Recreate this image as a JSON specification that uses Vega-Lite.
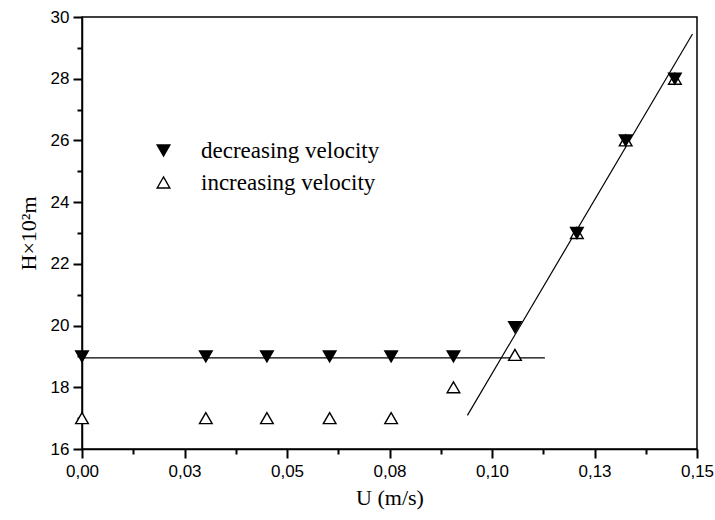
{
  "$schema": "https://vega.github.io/schema/vega-lite/v6.json",
  "width": 615,
  "height": 432,
  "autosize": {"type": "none"},
  "padding": {"left": 82, "top": 17, "right": 18, "bottom": 71},
  "background": "white",
  "config": {
    "view": {"stroke": "black", "strokeWidth": 1.5},
    "axis": {
      "grid": false,
      "domainColor": "black",
      "domainWidth": 1.5,
      "labelColor": "black",
      "titleColor": "black",
      "labelFont": "Liberation Sans",
      "labelFontSize": 17,
      "labelFlush": false,
      "titleFont": "Liberation Serif",
      "titleFontSize": 22,
      "titleFontWeight": "normal"
    }
  },
  "layer": [
    {
      "data": {
        "values": [
          {"seg": "flat", "u": 0, "h": 18.95},
          {"seg": "flat", "u": 0.1129, "h": 18.95},
          {"seg": "fit", "u": 0.094, "h": 17.09},
          {"seg": "fit", "u": 0.1489, "h": 29.45}
        ]
      },
      "mark": {"type": "line", "color": "black", "strokeWidth": 1.2},
      "encoding": {
        "x": {
          "field": "u",
          "type": "quantitative",
          "scale": {"domain": [0, 0.15], "nice": false, "zero": false},
          "axis": {
            "orient": "bottom",
            "values": [0.0125, 0.0375, 0.0625, 0.0875, 0.1125, 0.1375],
            "labels": false,
            "domain": false,
            "ticks": true,
            "tickColor": "#000000",
            "tickWidth": 2,
            "tickSize": 5,
            "title": null
          }
        },
        "y": {
          "field": "h",
          "type": "quantitative",
          "scale": {"domain": [16, 30], "nice": false, "zero": false},
          "axis": {
            "orient": "left",
            "values": [17, 19, 21, 23, 25, 27, 29],
            "labels": false,
            "domain": false,
            "ticks": true,
            "tickColor": "#000000",
            "tickWidth": 2,
            "tickSize": 5,
            "title": null
          }
        },
        "detail": {"field": "seg"}
      }
    },
    {
      "data": {
        "values": [
          {"series": "increasing velocity", "u": 0, "h": 17},
          {"series": "increasing velocity", "u": 0.0302, "h": 17},
          {"series": "increasing velocity", "u": 0.0451, "h": 17},
          {"series": "increasing velocity", "u": 0.0604, "h": 17},
          {"series": "increasing velocity", "u": 0.0754, "h": 17},
          {"series": "increasing velocity", "u": 0.0906, "h": 18},
          {"series": "increasing velocity", "u": 0.1056, "h": 19.05},
          {"series": "increasing velocity", "u": 0.1207, "h": 23},
          {"series": "increasing velocity", "u": 0.1326, "h": 26},
          {"series": "increasing velocity", "u": 0.1446, "h": 28},
          {"series": "decreasing velocity", "u": 0, "h": 19},
          {"series": "decreasing velocity", "u": 0.0302, "h": 19},
          {"series": "decreasing velocity", "u": 0.0451, "h": 19},
          {"series": "decreasing velocity", "u": 0.0604, "h": 19},
          {"series": "decreasing velocity", "u": 0.0754, "h": 19},
          {"series": "decreasing velocity", "u": 0.0906, "h": 19},
          {"series": "decreasing velocity", "u": 0.1056, "h": 19.95},
          {"series": "decreasing velocity", "u": 0.1207, "h": 23},
          {"series": "decreasing velocity", "u": 0.1326, "h": 26},
          {"series": "decreasing velocity", "u": 0.1446, "h": 28}
        ]
      },
      "mark": {"type": "point", "filled": true, "strokeWidth": 1.4, "size": 160, "opacity": 1},
      "encoding": {
        "x": {
          "field": "u",
          "type": "quantitative",
          "axis": {
            "orient": "bottom",
            "values": [0, 0.025, 0.05, 0.075, 0.1, 0.125, 0.15],
            "labelExpr": "replace(format(datum.value + 0.0001, '.2f'), '.', ',')",
            "ticks": true,
            "tickColor": "#000000",
            "tickWidth": 2,
            "tickSize": 9,
            "labelPadding": 5,
            "title": "U  (m/s)",
            "titlePadding": 8
          }
        },
        "y": {
          "field": "h",
          "type": "quantitative",
          "axis": {
            "orient": "left",
            "values": [16, 18, 20, 22, 24, 26, 28, 30],
            "ticks": true,
            "tickColor": "#000000",
            "tickWidth": 2,
            "tickSize": 9,
            "labelPadding": 4,
            "title": "H×10²m",
            "titlePadding": 10
          }
        },
        "shape": {
          "field": "series",
          "type": "nominal",
          "scale": {"domain": ["decreasing velocity", "increasing velocity"], "range": ["triangle-down", "triangle-up"]},
          "legend": {
            "orient": "none", "legendX": 70, "legendY": 122, "title": null,
            "labelFont": "Liberation Serif", "labelFontSize": 23, "labelColor": "black", "labelLimit": 0,
            "symbolSize": 160, "symbolStrokeWidth": 1.4,
            "rowPadding": 8, "labelOffset": 26, "padding": 0
          }
        },
        "fill": {
          "field": "series",
          "type": "nominal",
          "scale": {"domain": ["decreasing velocity", "increasing velocity"], "range": ["black", "white"]},
          "legend": {
            "orient": "none", "legendX": 70, "legendY": 122, "title": null,
            "labelFont": "Liberation Serif", "labelFontSize": 23, "labelColor": "black", "labelLimit": 0,
            "symbolSize": 160, "symbolStrokeWidth": 1.4,
            "rowPadding": 8, "labelOffset": 26, "padding": 0
          }
        },
        "stroke": {
          "field": "series",
          "type": "nominal",
          "scale": {"domain": ["decreasing velocity", "increasing velocity"], "range": ["black", "black"]},
          "legend": {
            "orient": "none", "legendX": 70, "legendY": 122, "title": null,
            "labelFont": "Liberation Serif", "labelFontSize": 23, "labelColor": "black", "labelLimit": 0,
            "symbolSize": 160, "symbolStrokeWidth": 1.4,
            "rowPadding": 8, "labelOffset": 26, "padding": 0
          }
        }
      }
    }
  ],
  "resolve": {"axis": {"x": "independent", "y": "independent"}}
}
